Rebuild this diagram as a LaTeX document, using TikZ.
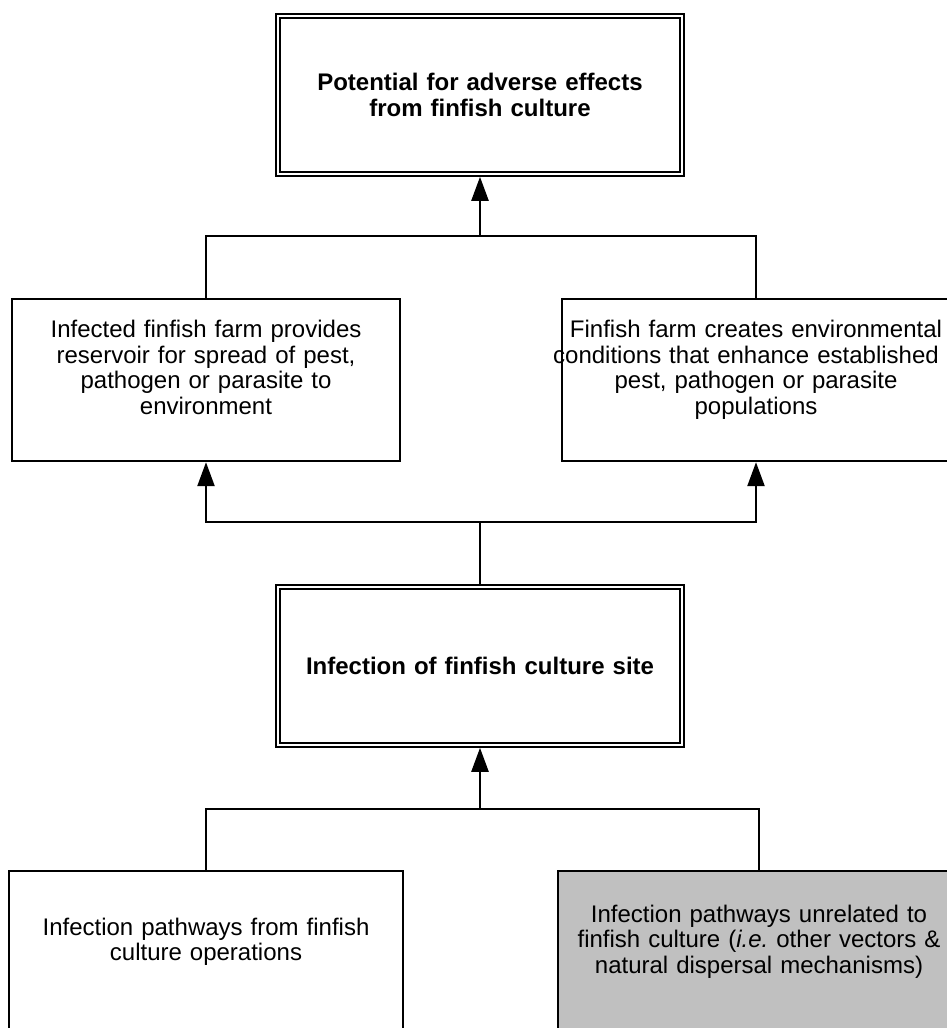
\documentclass[tikz,border=0pt]{standalone}
\usepackage{fontspec}
\setmainfont{Liberation Sans}
\usetikzlibrary{arrows.meta}
\definecolor{boxgray}{HTML}{C0C0C0}
\frenchspacing

\begin{document}
\begin{tikzpicture}[x=1pt,y=-1pt,
	dblbox/.style={draw,black,rectangle,line width=1.8pt,double=white,double distance=2pt,outer sep=2.8pt,inner sep=0pt,minimum width=404,minimum height=158,text width=380,align=center,font=\fontsize{24}{25.5}\selectfont\bfseries},
	plainbox/.style={draw,black,rectangle,line width=2.4pt,inner sep=0pt,minimum width=388,minimum height=162,text width=382,align=center,font=\fontsize{24}{25.5}\selectfont},
	link/.style={line width=2.4pt},
	up/.style={link,-{Triangle[length=24pt,width=17pt]}}]
	\useasboundingbox (0,0) rectangle (947,1028);
	\clip (0,0) rectangle (947,1028);

	\node [name=top,dblbox] at (480,95) {Potential for adverse effects\\from finfish culture};

	\node [name=farmres,plainbox] at (206,380) {Infected finfish farm provides\\reservoir for spread of pest,\\pathogen or parasite to\\environment\\\mbox{}};
	\node [name=farmenv,plainbox] at (756,380) {Finfish farm creates environmental\\\makebox[382pt]{conditions that enhance established\hspace{20pt}}\\pest, pathogen or parasite\\populations\\\mbox{}};

	\node [name=site,dblbox] at (480,666) {Infection of finfish culture site};

	\node [name=opspath,plainbox,minimum width=394] at (206,952) {Infection pathways from finfish\\culture operations\\\mbox{}};
	\node [name=otherpath,plainbox,minimum width=402,fill=boxgray] at (759,952) {Infection pathways unrelated to\\finfish culture (\textit{i.e.} other vectors \&\\natural dispersal mechanisms)\\\mbox{}};

	\coordinate (topjoin) at (480,236);
	\coordinate (midsplit) at (480,522);
	\coordinate (lowjoin) at (480,809);

	\draw [link] (farmres.north) |- (topjoin) -| (farmenv.north);
	\draw [up] (topjoin) -- (top.south);

	\draw [link] (site.north) -- (midsplit);
	\draw [up] (midsplit) -| (farmres.south);
	\draw [up] (midsplit) -| (farmenv.south);

	\draw [link] (opspath.north) |- (lowjoin) -| (otherpath.north);
	\draw [up] (lowjoin) -- (site.south);
\end{tikzpicture}
\end{document}
